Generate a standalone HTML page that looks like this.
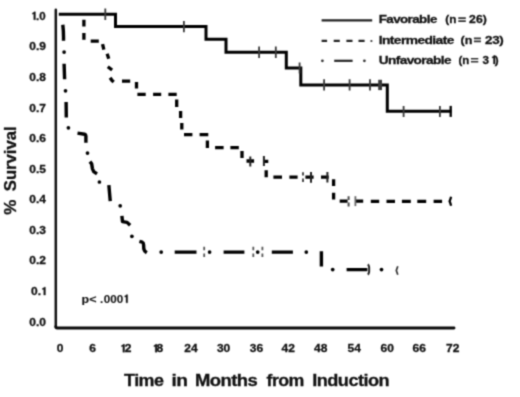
<!DOCTYPE html>
<html>
<head>
<meta charset="utf-8">
<style>
html,body{margin:0;padding:0;background:#fff;}
body{width:520px;height:397px;overflow:hidden;}
svg{display:block;}
text{font-family:"Liberation Sans",sans-serif;font-weight:bold;fill:#111;stroke:#111;stroke-width:0.3px;}
.pv text{stroke-width:0.1px;}
</style>
</head>
<body>
<svg width="520" height="397" viewBox="0 0 520 397">
<defs><filter id="soft" filterUnits="userSpaceOnUse" x="0" y="0" width="520" height="397" color-interpolation-filters="sRGB"><feConvolveMatrix order="3" kernelMatrix="0.0361 0.1178 0.0361 0.1178 0.3844 0.1178 0.0361 0.1178 0.0361" edgeMode="duplicate"/></filter></defs>
<g filter="url(#soft)">
<rect width="520" height="397" fill="#fff"/>

<!-- axes -->
<path d="M55.8 9.8 V327" fill="none" stroke="#111" stroke-width="2.5" stroke-linecap="round"/>
<path d="M55.8 326.6 Q55.8 328 57.2 328 H454" fill="none" stroke="#0a0a0a" stroke-width="2.9" stroke-linecap="round"/>

<defs><path id="one" fill="#111" stroke="#111" stroke-width="30" d="M222 0H360V710H250Q232 668 196 642Q160 616 109 606V500Q172 506 222 534Z"/></defs>
<!-- y labels -->
<g font-size="11.1" text-anchor="end">
<text x="45.6" y="19.75" textLength="9.6" lengthAdjust="spacingAndGlyphs">.0</text>
<use href="#one" transform="translate(31.1 19.75) scale(0.012 -0.0111)"/>
<text x="45.9" y="50.34" textLength="16.69" lengthAdjust="spacingAndGlyphs">0.9</text>
<text x="45.9" y="80.93" textLength="16.69" lengthAdjust="spacingAndGlyphs">0.8</text>
<text x="45.9" y="111.52" textLength="16.69" lengthAdjust="spacingAndGlyphs">0.7</text>
<text x="45.9" y="142.11" textLength="16.69" lengthAdjust="spacingAndGlyphs">0.6</text>
<text x="45.9" y="172.7" textLength="16.69" lengthAdjust="spacingAndGlyphs">0.5</text>
<text x="45.9" y="203.29" textLength="16.69" lengthAdjust="spacingAndGlyphs">0.4</text>
<text x="45.9" y="233.88" textLength="16.69" lengthAdjust="spacingAndGlyphs">0.3</text>
<text x="45.9" y="264.47" textLength="16.69" lengthAdjust="spacingAndGlyphs">0.2</text>
<text x="31.1" y="295.06" text-anchor="start" textLength="10" lengthAdjust="spacingAndGlyphs">0.</text>
<use href="#one" transform="translate(41.1 295.06) scale(0.012 -0.0111)"/>
<text x="45.9" y="325.65" textLength="16.69" lengthAdjust="spacingAndGlyphs">0.0</text>
</g>

<!-- x labels -->
<g font-size="11.1" text-anchor="middle">
<text x="60.1" y="352.2" textLength="6.67" lengthAdjust="spacingAndGlyphs">0</text>
<text x="92.6" y="352.2" textLength="6.67" lengthAdjust="spacingAndGlyphs">6</text>
<text x="191" y="352.2" textLength="13.36" lengthAdjust="spacingAndGlyphs">24</text>
<text x="223.6" y="352.2" textLength="13.36" lengthAdjust="spacingAndGlyphs">30</text>
<text x="256.5" y="352.2" textLength="13.36" lengthAdjust="spacingAndGlyphs">36</text>
<text x="288.3" y="352.2" textLength="13.36" lengthAdjust="spacingAndGlyphs">42</text>
<text x="320.8" y="352.2" textLength="13.36" lengthAdjust="spacingAndGlyphs">48</text>
<text x="354.3" y="352.2" textLength="13.36" lengthAdjust="spacingAndGlyphs">54</text>
<text x="387.2" y="352.2" textLength="13.36" lengthAdjust="spacingAndGlyphs">60</text>
<text x="419.2" y="352.2" textLength="13.36" lengthAdjust="spacingAndGlyphs">66</text>
<text x="452.8" y="352.2" textLength="13.36" lengthAdjust="spacingAndGlyphs">72</text>
<use href="#one" transform="translate(120.2 352.2) scale(0.012 -0.0111)"/>
<text x="124.8" y="352.2" text-anchor="start" textLength="6.67" lengthAdjust="spacingAndGlyphs">2</text>
<use href="#one" transform="translate(152.6 352.2) scale(0.012 -0.0111)"/>
<text x="156.4" y="352.2" text-anchor="start" textLength="6.67" lengthAdjust="spacingAndGlyphs">8</text>
</g>

<!-- titles -->
<g font-size="17">
<text x="124.05" y="386" letter-spacing="-0.5" textLength="39.4" lengthAdjust="spacingAndGlyphs">Time</text>
<text x="171.4" y="386" letter-spacing="-0.5" textLength="15.9" lengthAdjust="spacingAndGlyphs">in</text>
<text x="194.9" y="386" letter-spacing="-0.5" textLength="62.3" lengthAdjust="spacingAndGlyphs">Months</text>
<text x="266.5" y="386" letter-spacing="-0.5" textLength="37.4" lengthAdjust="spacingAndGlyphs">from</text>
<text x="312.2" y="386" letter-spacing="-0.5" textLength="76.9" lengthAdjust="spacingAndGlyphs">Induction</text>
<text transform="translate(15.9 214.8) rotate(-90)">%</text>
<text transform="translate(15.9 191.2) rotate(-90)" textLength="64.8" lengthAdjust="spacingAndGlyphs">Survival</text>
</g>

<g font-size="11.5" class="pv">
<text x="81.6" y="302.8" textLength="14.9" lengthAdjust="spacingAndGlyphs">p&lt;</text>
<text x="100" y="302.8">.</text>
<text x="103.85" y="302.8" textLength="19.4" lengthAdjust="spacingAndGlyphs">000</text>
<use href="#one" transform="translate(123.5 302.8) scale(0.0115 -0.0115)"/>
</g>

<!-- legend -->
<g font-size="11.7" letter-spacing="-0.5">
<text x="378.66" y="23.2" textLength="58.1" lengthAdjust="spacingAndGlyphs">Favorable</text>
<text x="445.35" y="23.2" textLength="11.05" lengthAdjust="spacingAndGlyphs" letter-spacing="0">(n</text>
<path d="M458.3 18.05H465.8M458.3 21.05H465.8" stroke="#333" stroke-width="1.7"/>
<text x="469.1" y="23.2" textLength="17.7" lengthAdjust="spacingAndGlyphs" letter-spacing="0">26)</text>
<text x="378.75" y="43.6" textLength="75" lengthAdjust="spacingAndGlyphs">Intermediate</text>
<text x="460.55" y="43.6" textLength="11.8" lengthAdjust="spacingAndGlyphs" letter-spacing="0">(n</text>
<path d="M473.9 38.45H480.9M473.9 41.45H480.9" stroke="#333" stroke-width="1.7"/>
<text x="485" y="43.6" textLength="18.4" lengthAdjust="spacingAndGlyphs" letter-spacing="-0.3">23)</text>
<text x="378.76" y="63.9" textLength="72.2" lengthAdjust="spacingAndGlyphs">Unfavorable</text>
<text x="458.45" y="63.9" textLength="10.8" lengthAdjust="spacingAndGlyphs" letter-spacing="0">(n</text>
<path d="M470.9 58.75H478.3M470.9 61.75H478.3" stroke="#333" stroke-width="1.7"/>
<text x="482.6" y="63.9" letter-spacing="0">3</text>
<use href="#one" transform="translate(490.9 63.9) scale(0.0117 -0.0117)"/>
<text x="494.75" y="63.9" letter-spacing="0">)</text>
</g>
<g stroke="#111" fill="none">
<line x1="321.6" y1="20.4" x2="372.2" y2="20.4" stroke-width="2.2" stroke="#222"/>
<path d="M321.6 40.9h5.5M333.7 40.9h6.1M346.4 40.9h6.1M358.5 40.9h6.1" stroke-width="2.4" stroke="#222"/>
<circle cx="371.4" cy="41" r="1.1" fill="#333" stroke="none"/>
<path d="M334.2 60.8h18.4" stroke-width="2.2" stroke="#222"/>
<circle cx="322.4" cy="60.8" r="1.4" fill="#333" stroke="none"/>
<circle cx="364.4" cy="60.8" r="1.4" fill="#333" stroke="none"/>
</g>

<!-- Favorable (solid) -->
<path d="M58.8 14.3H115.5V26.6H206V39.3H226V52.2H286.3V68.1H300.8V85H387.3V111.3H451.5" fill="none" stroke="#000" stroke-width="3" stroke-linejoin="miter"/>
<g stroke="#3a3a3a" stroke-width="1.8">
<path d="M105.3 8.6v11.4M183.9 20.9v11.4M259.1 46.6v11.4M275.8 46.6v11.4M299.6 62.4v11M324.1 79.2v11.4M349.6 79.2v11.4M370 79.2v11.4M403.6 105.9v11M439.9 105.9v11"/>
<path d="M450.7 105.9v11" stroke="#000" stroke-width="2.3"/>
</g>

<rect x="378.2" y="79.8" width="3.8" height="10.3" fill="#3a3a3a"/>

<!-- Intermediate (dashed) -->
<g stroke="#000" stroke-width="3.3" fill="none" stroke-linecap="butt">
<path d="M83.90 19.70 L83.90 26.50M83.90 33.00 L83.90 39.80M90.70 41.20 L98.80 41.20M102.55 44.10 L103.85 49.60M107.15 53.70 L108.75 58.65M107.80 66.75 L112.10 70.05M110.10 77.70 L111.90 80.30 L113.70 81.90M122.00 81.20 L130.20 81.20M136.50 81.90 L136.50 88.60M137.40 94.30 L145.70 94.30M153.10 94.30 L161.20 94.30M168.40 94.30 L176.70 94.30M176.70 99.60 L176.70 106.90M180.60 111.00 L180.60 118.00M181.80 123.00 L181.80 129.40M184.00 134.70 L192.40 134.70M199.60 134.70 L208.30 134.70M207.40 140.60 L207.40 148.00M215.10 147.60 L223.60 147.60M230.40 147.60 L238.80 147.60M242.00 150.90 L242.00 158.00M246.50 161.00 L254.10 161.00M263.10 161.30 L268.30 161.30M266.20 170.20 L266.20 177.20M273.40 177.20 L282.00 177.20M289.40 177.20 L297.60 177.20M305.40 177.20 L313.60 177.20M321.00 177.20 L328.70 177.20M333.60 179.20 L333.60 186.00M333.60 192.70 L333.60 199.60M339.70 201.20 L347.60 201.20M355.90 201.20 L363.20 201.20M370.80 201.30 L379.20 201.30M386.50 201.30 L395.00 201.30M401.90 201.30 L410.80 201.30M417.30 201.30 L426.20 201.30M433.60 201.30 L442.10 201.30"/>
</g>
<g stroke="#222" stroke-width="2">
<path d="M250.3 156.4v10M263.9 156v10M311 172v10.8M327.4 172v10.5"/>
<path d="M451.1 196.8Q450.5 199.2 449.6 201.3Q450.5 203.4 451.1 205.8" fill="none" stroke="#000" stroke-width="2.3"/>
</g>
<g stroke="#4a4a4a" stroke-width="2">
<path d="M303 172.2v3.2M303 178.6v3.3M348.6 196.2v3.8M348.6 202.5v3.9"/>
<path d="M355.4 196.2v9.9" stroke="#666" stroke-width="1.8"/>
</g>

<!-- Unfavorable (dash-dot) -->
<g stroke="#000" stroke-width="3.4" fill="none" stroke-linecap="butt" stroke-linejoin="round">
<path d="M62.8 24.7Q63.7 32 63.5 40.8M64.1 63.7L64.6 79.2M66.1 101.9L66.3 117.4M77.5 133.1L84.6 134.2Q85.9 134.6 85.9 136V142.7M89.9 161.6L91.7 163.9L92.4 168.6L93.7 171.6L97 173.8M108.85 185.2L110.25 201.1M121.9 215.9L122.5 221.6L127.1 222.4L130.1 225.3M139.4 241.4L142.3 242.2Q143.6 242.8 143.6 244.8L143.8 249Q144.1 251.1 146.8 252.8M174.7 252.1H196.5M223.6 252.1H244.4M271.8 252.1H292.9M321.4 251.3V266.6M346.6 269.6H367.4"/>
</g>
<g fill="#000">
<circle cx="64.1" cy="52.1" r="1.85"/>
<circle cx="65.5" cy="90.8" r="1.85"/>
<circle cx="68.4" cy="127.8" r="1.85"/>
<circle cx="87.5" cy="153.1" r="1.85"/>
<circle cx="99.4" cy="182" r="1.85"/>
<circle cx="120.2" cy="205.8" r="1.85"/>
<circle cx="131.9" cy="236.3" r="1.85"/>
<circle cx="161.2" cy="252.1" r="1.85"/>
<circle cx="209.6" cy="252.1" r="1.85"/>
<circle cx="257.7" cy="252.1" r="1.85"/>
<circle cx="306.3" cy="252.1" r="1.85"/>
<circle cx="332.7" cy="269.6" r="1.85"/>
<circle cx="381.5" cy="269.6" r="1.85"/>
</g>
<g stroke="#555" stroke-width="1.8">
<path d="M204.2 246.8v3.4M204.2 253.6v3.3M253.3 246.8v3.4M253.3 253.6v3.3M262.4 246.8v3.4M262.4 253.6v3.3"/>
</g>
<g stroke="#222" stroke-width="1.9" fill="none">
<path d="M367.8 264.4Q369.4 265.5 369.2 269.5Q369.4 273.5 367.8 274.6"/>
<path d="M397.8 266.2L396.3 270.4L397.8 274.8" stroke="#333" stroke-width="1.7"/>
</g>
</g>
</svg>
</body>
</html>
